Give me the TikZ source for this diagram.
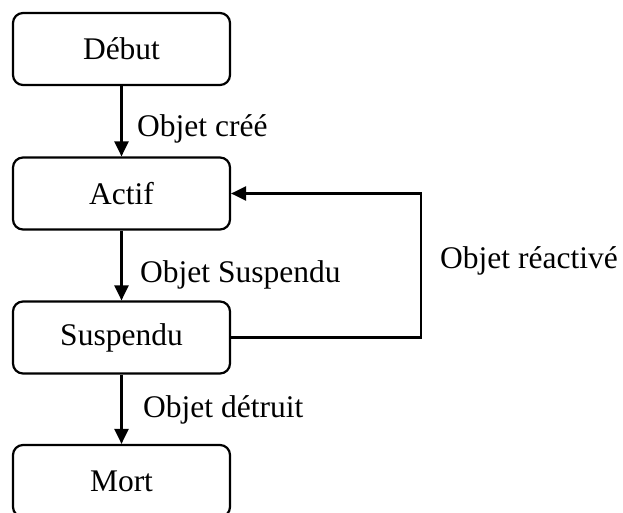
\documentclass[tikz,border=0pt]{standalone}
\usepackage{fontspec}
\setmainfont{Liberation Serif}
\usetikzlibrary{arrows.meta}
\begin{document}
\begin{tikzpicture}[x=1pt,y=-1pt,
  statebox/.style={draw,line width=2.2pt,rounded corners=10pt,minimum width=217pt,minimum height=72pt,inner sep=0pt,font=\fontsize{31.5}{36}\selectfont},
  lbl/.style={anchor=base west,inner sep=0pt,font=\fontsize{31.5}{36}\selectfont},
  conn/.style={line width=2.2pt,-{Triangle[length=15pt,width=14pt]}}]
\useasboundingbox (0,0) rectangle (623,513);
\node[statebox] (debut) at (121.5,49) {Début};
\node[statebox] (actif) at (121.5,193.5) {Actif};
\node[statebox] (susp) at (121.5,337.5) {Suspendu};
\node[statebox] (mort) at (121.5,481) {Mort};
\draw[conn] (debut) -- (actif);
\draw[conn] (actif) -- (susp);
\draw[conn] (susp) -- (mort);
\coordinate (loop) at (421,337.5);
\draw[conn] (susp.east) -- (loop) |- (actif.east);
\node[lbl] (l1) at (137,137) {Objet créé};
\node[lbl] (l2) at (140,282) {Objet Suspendu};
\node[lbl] (l3) at (440,268) {Objet réactivé};
\node[lbl] (l4) at (143,417) {Objet détruit};
\end{tikzpicture}
\end{document}
